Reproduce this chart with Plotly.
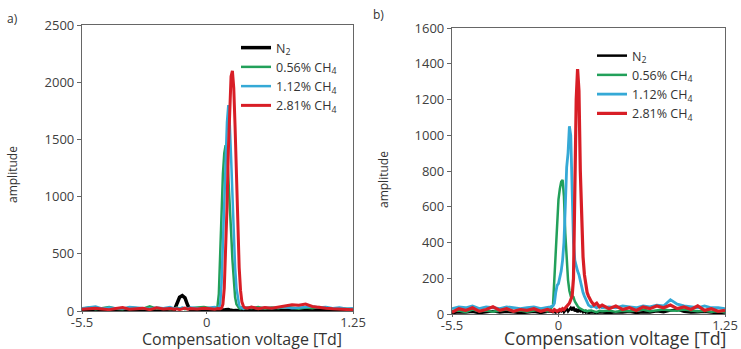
import plotly.graph_objects as go

# ---------------- data ----------------
# x positions are sample positions along the (non-linear) compensation-voltage axis, 0..100
xa = [0, 2.5, 5, 7.5, 10, 12.5, 15, 17.5, 20, 22.5,
      25, 27.5, 30, 32.5, 34, 35, 36, 37, 38, 39,
      40, 42.5, 45, 47.5, 49, 50, 50.5, 51, 51.5, 52,
      52.5, 53, 53.5, 54, 54.5, 55, 55.5, 56, 56.5, 57,
      57.5, 58, 58.5, 59, 59.5, 60, 61, 62.5, 65, 67.5,
      70, 72.5, 75, 77.5, 80, 82.5, 85, 87.5, 90, 92.5,
      95, 97.5, 100]

n2_a = [3, 5, 2, 4, 3, 6, 2, 4, 3, 5,
        4, 2, 5, 3, 5, 60, 120, 135, 115, 50,
        5, 3, 4, 2, 3, 4, 3, 5, 4, 6,
        8, 12, 15, 14, 10, 6, 4, 3, 4, 3,
        2, 3, 4, 3, 2, 3, 4, 3, 5, 4,
        3, 5, 4, 6, 8, 10, 14, 16, 10, 4,
        3, 4, 3]
ch4_056_a = [20, 30, 15, 25, 35, 20, 15, 30, 25, 20,
             40, 20, 25, 15, 20, 30, 20, 25, 15, 20,
             25, 30, 35, 25, 20, 40, 150, 500, 900, 1200,
             1380, 1450, 1400, 1200, 950, 700, 450, 250, 120, 60,
             35, 25, 20, 30, 25, 20, 30, 25, 35, 20,
             30, 25, 40, 30, 20, 30, 25, 35, 30, 20,
             25, 20, 15]
ch4_112_a = [25, 35, 40, 20, 30, 25, 20, 35, 30, 25,
             20, 30, 25, 35, 20, 25, 20, 30, 25, 20,
             30, 25, 20, 30, 35, 25, 30, 60, 250, 600,
             1000, 1350, 1650, 1800, 1650, 1350, 1000, 650, 380, 200,
             100, 50, 30, 25, 20, 30, 25, 35, 20, 30,
             25, 30, 35, 25, 30, 35, 40, 30, 35, 25,
             30, 20, 25]
ch4_281_a = [15, 20, 25, 18, 12, 22, 30, 15, 20, 25,
             12, 28, 18, 22, 15, 20, 12, 18, 25, 15,
             22, 18, 25, 20, 15, 22, 18, 20, 25, 60,
             200, 500, 900, 1400, 1800, 2050, 2100, 1950, 1600, 1150,
             700, 380, 180, 80, 45, 30, 25, 35, 20, 30,
             25, 35, 45, 55, 50, 60, 40, 30, 25, 20,
             15, 12, 10]

xb = [0, 2.5, 5, 7.5, 10, 12.5, 15, 17.5, 20, 22.5,
      25, 27.5, 30, 32.5, 35, 36, 37, 37.5, 38, 38.5,
      39, 39.5, 40, 40.5, 41, 41.5, 42, 42.5, 43, 43.5,
      44, 44.5, 45, 45.5, 46, 46.5, 47, 47.5, 48, 48.5,
      49, 49.5, 50, 51, 52, 53, 54, 55, 57.5, 60,
      62.5, 65, 67.5, 70, 72.5, 75, 77.5, 80, 82.5, 85,
      87.5, 90, 92.5, 95, 97.5, 100]

n2_b = [5, 10, 8, 12, 5, 10, 15, 8, 12, 10,
        5, 8, 12, 6, 10, 15, 10, 12, 8, 15,
        10, 20, 15, 25, 10, 20, 30, 15, 25, 35,
        20, 40, 15, 30, 10, 25, 15, 20, 10, 15,
        8, 12, 5, 10, 8, 5, 10, 8, 5, 10,
        8, 12, 6, 10, 8, 15, 10, 20, 25, 12,
        8, 10, 12, 8, 5, 8]
ch4_056_b = [15, 20, 10, 25, 15, 20, 12, 18, 25, 15,
             20, 12, 18, 25, 15, 25, 50, 200, 400, 560,
             640, 700, 740, 750, 660, 450, 300, 190, 130, 100,
             100, 95, 70, 55, 45, 35, 30, 25, 20, 18,
             20, 15, 18, 20, 15, 10, 18, 15, 20, 12,
             18, 15, 20, 25, 15, 20, 25, 20, 18, 25,
             20, 15, 18, 12, 15, 10]
ch4_112_b = [30, 40, 35, 45, 30, 40, 35, 30, 40, 35,
             30, 35, 40, 30, 35, 40, 45, 60, 120, 160,
             170, 200, 240, 300, 400, 600, 820, 900, 1050, 1000,
             700, 400, 300, 260, 240, 220, 180, 150, 120, 100,
             80, 60, 50, 40, 45, 35, 45, 35, 40, 35,
             45, 40, 35, 45, 40, 50, 45, 80, 55, 45,
             40, 35, 45, 35, 35, 30]
ch4_281_b = [10, 30, 20, 35, 15, 25, 40, 20, 30, 15,
             25, 20, 30, 15, 25, 20, 15, 25, 20, 15,
             20, 25, 20, 30, 25, 35, 40, 50, 60, 80,
             100, 200, 700, 1200, 1370, 1250, 800, 500, 320, 220,
             160, 120, 100, 70, 50, 60, 40, 50, 30, 45,
             25, 35, 20, 40, 30, 45, 35, 50, 30, 40,
             25, 45, 20, 30, 15, 20]

series_names = ["N<sub>2</sub>", "0.56% CH<sub>4</sub>", "1.12% CH<sub>4</sub>", "2.81% CH<sub>4</sub>"]
series_colors = ["#000000", "#22a05a", "#35a9d6", "#d81e26"]

tick_text = ["-5.5", "0", "1.25"]
tick_pos_a = [0, 46, 100]
tick_pos_b = [0, 39, 100]
y_ticks_a = [0, 500, 1000, 1500, 2000, 2500]
y_ticks_b = [0, 200, 400, 600, 800, 1000, 1200, 1400, 1600]

# ---------------- figure ----------------
W, H = 741, 349
FONT = "Open Sans"
fig = go.Figure()

widths_a = [3.5, 2.5, 2.5, 3]
widths_b = [2.5, 2.5, 2.8, 3.2]
for ys, name, col, w in zip([n2_a, ch4_056_a, ch4_112_a, ch4_281_a], series_names, series_colors, widths_a):
    fig.add_trace(go.Scatter(x=xa, y=ys, mode="lines", name=name, line=dict(color=col, width=w),
                             xaxis="x", yaxis="y", legend="legend"))
for ys, name, col, w in zip([n2_b, ch4_056_b, ch4_112_b, ch4_281_b], series_names, series_colors, widths_b):
    fig.add_trace(go.Scatter(x=xb, y=ys, mode="lines", name=name, line=dict(color=col, width=w),
                             xaxis="x2", yaxis="y2", legend="legend2"))


def px_x(p):
    return p / W


def px_y(p):
    return 1 - p / H


axis_common = dict(showline=True, linecolor="#666666", linewidth=1.3, mirror=True,
                   showgrid=False, zeroline=False, ticks="outside", automargin=False,
                   tickcolor="#666666", tickfont=dict(family=FONT, size=13, color="#404040"))

fig.update_layout(
    width=W, height=H,
    margin=dict(l=0, r=0, t=0, b=0, pad=0, autoexpand=False),
    paper_bgcolor="white", plot_bgcolor="white",
    font=dict(family=FONT, color="#333333"),
    xaxis=dict(domain=[px_x(82), px_x(353)], range=[0, 100], tickvals=tick_pos_a, ticktext=tick_text,
               anchor="y", ticklen=2, ticklabelstandoff=-3, **axis_common),
    yaxis=dict(domain=[px_y(311), px_y(25)], range=[0, 2500], tickvals=y_ticks_a,
               anchor="x", ticklen=4, **axis_common),
    xaxis2=dict(domain=[px_x(452), px_x(725)], range=[0, 100], tickvals=tick_pos_b, ticktext=tick_text,
                anchor="y2", ticklen=2, ticklabelstandoff=-3, **axis_common),
    yaxis2=dict(domain=[px_y(314), px_y(28)], range=[0, 1600], tickvals=y_ticks_b,
                anchor="x2", ticklen=4, **axis_common),
    legend=dict(x=px_x(236), y=px_y(33), xanchor="left", yanchor="top",
                bgcolor="rgba(0,0,0,0)", font=dict(family=FONT, size=12.5, color="#333333"),
                itemwidth=30, tracegroupgap=0),
    legend2=dict(x=px_x(592), y=px_y(41), xanchor="left", yanchor="top",
                 bgcolor="rgba(0,0,0,0)", font=dict(family=FONT, size=12.5, color="#333333"),
                 itemwidth=30, tracegroupgap=0),
    showlegend=True,
)

annos = [
    dict(text="a)", x=px_x(12), y=px_y(18), xanchor="center", yanchor="middle", font=dict(size=12)),
    dict(text="b)", x=px_x(378), y=px_y(14), xanchor="center", yanchor="middle", font=dict(size=12)),
    dict(text="Compensation voltage [Td]", x=px_x(242), y=px_y(339), xanchor="center", yanchor="middle",
         font=dict(size=16, color="#333333")),
    dict(text="Compensation voltage [Td]", x=px_x(615), y=px_y(338), xanchor="center", yanchor="middle",
         font=dict(size=17.8, color="#333333")),
    dict(text="amplitude", x=px_x(12), y=px_y(175), xanchor="center", yanchor="middle", textangle=-90,
         font=dict(size=12, color="#333333")),
    dict(text="amplitude", x=px_x(383), y=px_y(180), xanchor="center", yanchor="middle", textangle=-90,
         font=dict(size=12, color="#333333")),
]
for a in annos:
    a.update(xref="paper", yref="paper", showarrow=False)
    a["font"] = dict(family=FONT, **a["font"])
    fig.add_annotation(**a)

fig.write_html("out.html")
